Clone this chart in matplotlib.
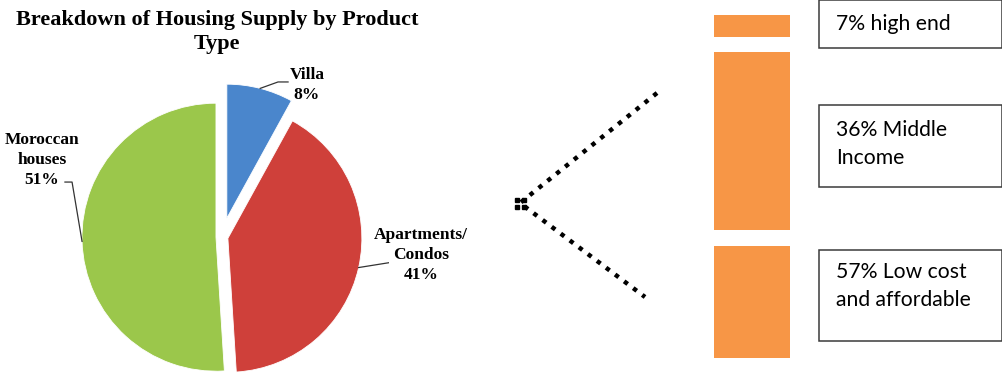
import numpy as np
import matplotlib
matplotlib.use("Agg")
from matplotlib import pyplot as plt
from matplotlib.patches import Rectangle

# pie: housing supply by product type
pie_labels = ["Villa", "Apartments/\nCondos", "Moroccan\nhouses"]
pie_shares = [8, 41, 51]
pie_colors = ["#4A86CC", "#CF403A", "#9BC74B"]
pie_explode = [0.145, 0.045, 0.045]

# right side: income segments
tier_labels = ["7% high end", "36% Middle\nIncome", "57% Low cost\nand affordable"]
bar_shares = [7, 57, 36]          # stacked top to bottom
bar_color = "#F79646"

W, H = 1003, 377
fig = plt.figure(figsize=(W / 100, H / 100), dpi=100)
fig.patch.set_facecolor("white")

def px_axes(x0, y0, x1, y1, **kw):
    # axes placed by pixel box (y measured from top)
    return fig.add_axes([x0 / W, 1 - y1 / H, (x1 - x0) / W, (y1 - y0) / H], **kw)

# overlay for chevron and boxes
ov = px_axes(0, 0, W, H)
ov.set_xlim(0, W)
ov.set_ylim(H, 0)
ov.axis("off")

chev_x = [657, 520, 645]
chev_y = [93, 203, 297]
ov.plot(chev_x, chev_y, color="black", lw=3.2, linestyle=(0, (1, 1.55)),
        solid_capstyle="butt", dash_capstyle="butt")
ov.plot([517, 524, 517, 524], [200, 200, 207, 207], "s", color="black", ms=3)

boxes = [(819, 0, 1002, 48), (819, 105, 1002, 187), (819, 250, 1002, 341)]
text_y = [24, 144, 286]
for (x0, y0, x1, y1), lab, ty in zip(boxes, tier_labels, text_y):
    ov.add_patch(Rectangle((x0, y0), x1 - x0, y1 - y0, fill=False,
                           edgecolor="#3a3a3a", lw=1.1))
    ov.text(836, ty, lab, ha="left", va="center", fontsize=15.2,
            family="Lato", color="black", linespacing=1.5)

# stacked orange bar with gaps between segments
gap = 5
bax = px_axes(714, 15, 790, 358)
bottoms = np.cumsum([0] + bar_shares[:-1]) + gap * np.arange(len(bar_shares))
bax.bar(0, bar_shares, bottom=bottoms, width=1, color=bar_color, edgecolor="none")
bax.set_xlim(-0.5, 0.5)
bax.set_ylim(sum(bar_shares) + gap * (len(bar_shares) - 1), 0)
bax.axis("off")

# pie, centred at (222, 237) px, radius 134 px
R = 134
cx, cy = 222, 237
span = 1.25
pax = px_axes(cx - span * R, cy - span * R, cx + span * R, cy + span * R)
wedges, _ = pax.pie(pie_shares, colors=pie_colors, explode=pie_explode,
                    startangle=90, counterclock=False, radius=1,
                    wedgeprops=dict(edgecolor="white", linewidth=0.6))
pax.set_xlim(-span, span)
pax.set_ylim(-span, span)
pax.set_aspect("equal")
pax.axis("off")

# leader lines and labels
label_pos = [(0.634, 1.134), (1.485, -0.134), (-1.343, 0.575)]
leader_bends = [
    [(0.418, 1.157), (0.493, 1.157)],
    [(1.276, -0.187), (1.328, -0.187)],
    [(-1.119, 0.410), (-1.172, 0.410)],
]
for w, share, lab, tp, bend in zip(wedges, pie_shares, pie_labels, label_pos, leader_bends):
    ang = np.deg2rad((w.theta1 + w.theta2) / 2)
    cxw, cyw = w.center
    pts = [(cxw + np.cos(ang), cyw + np.sin(ang))] + bend
    pax.plot([p[0] for p in pts], [p[1] for p in pts], color="#333333", lw=0.9)
    pax.text(tp[0], tp[1], f"{lab}\n{share}%", ha="center", va="center",
             fontsize=12.5, fontweight="bold", family="Liberation Serif",
             linespacing=1.35)

fig.text(217 / W, 1 - 10 / H, "Breakdown of Housing Supply by Product\nType",
         ha="center", va="top", fontsize=16, family="Liberation Serif",
         fontweight="bold", linespacing=1.3)

fig.savefig("out.png", dpi=100, facecolor="white")
